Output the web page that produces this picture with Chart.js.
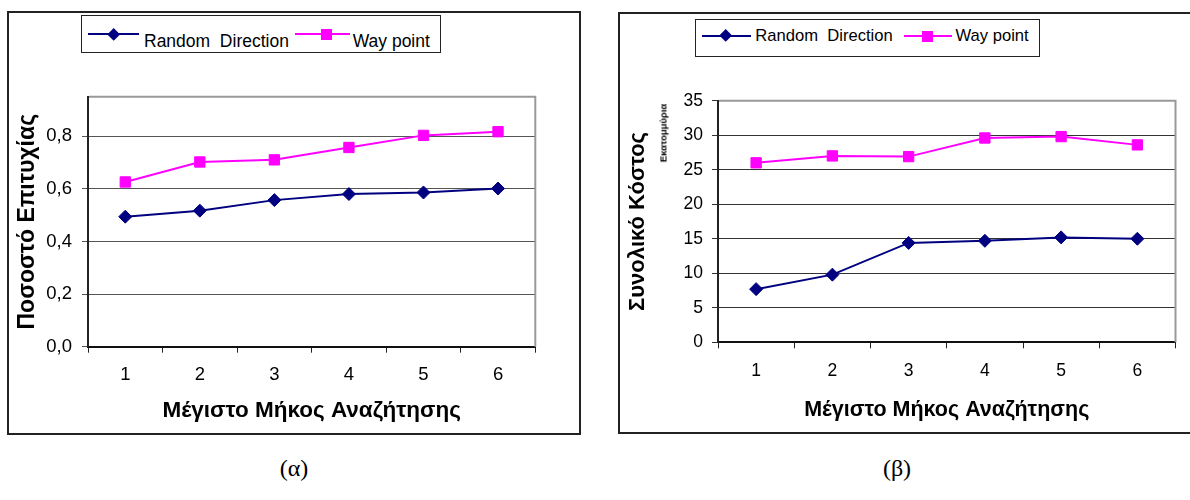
<!DOCTYPE html>
<html>
<head>
<meta charset="utf-8">
<script src="https://cdn.jsdelivr.net/npm/chart.js@4.4.1/dist/chart.umd.min.js"></script>
<style>
  body { margin:0; width:1190px; height:500px; background:#fff; position:relative; overflow:hidden;
         font-family:"Liberation Sans", Arial, sans-serif; }
  .frame { position:absolute; border:2px solid #222; box-sizing:border-box; }
  canvas { position:absolute; }
  .legend { position:absolute; border:1px solid #222; box-sizing:border-box; background:#fff; }
  .lg-line { position:absolute; height:2px; }
  .lg-text { position:absolute; white-space:pre; line-height:20px; color:#000; }
  .mk { position:absolute; }
  .cap { position:absolute; font-family:"Liberation Serif","Times New Roman",serif; font-size:24px; color:#000;
         transform:translate(-50%,-50%); white-space:nowrap; }
  .sub { position:absolute; font-weight:bold; font-size:9.5px; color:#000; white-space:nowrap;
         transform:translate(-50%,-50%) rotate(-90deg); }
</style>
</head>
<body>
<div class="frame" style="left:7px;top:11px;width:574px;height:424px;"></div>
<div class="frame" style="left:618px;top:12px;width:575px;height:422px;"></div>
<canvas id="c1" width="570" height="420" style="left:9px;top:13px;"></canvas>
<canvas id="c2" width="566" height="417" style="left:621px;top:14px;"></canvas>
<div class="sub" style="left:663px;top:133px;">Εκατομμύρια</div>
<div class="cap" style="left:294px;top:468px;">(α)</div>
<div class="cap" style="left:897px;top:468px;">(β)</div>
<script>
// ---- data ----
const categories = ['1', '2', '3', '4', '5', '6'];
const seriesNames = ['Random  Direction', 'Way point'];
const successRandom   = [0.494, 0.517, 0.557, 0.580, 0.586, 0.601];
const successWaypoint = [0.626, 0.702, 0.710, 0.757, 0.803, 0.817];
const costRandom   = [7.7, 9.8, 14.4, 14.7, 15.2, 15.0];
const costWaypoint = [26.0, 27.0, 26.9, 29.6, 29.8, 28.6];
const xTitle = 'Μέγιστο Μήκος Αναζήτησης';
const yTitleA = 'Ποσοστό Επιτυχίας';
const yTitleB = 'Συνολικό Κόστος';

const FONT = '"Liberation Sans", Arial, sans-serif';
const NAVY = '#000080', MAG = '#ff00ff';

const plotBorder = {
  id: 'plotBorder',
  beforeDatasetsDraw(chart) {
    const {ctx, chartArea: a} = chart;
    ctx.save();
    ctx.strokeStyle = '#999';
    ctx.lineWidth = 2;
    ctx.beginPath();
    ctx.moveTo(a.left + 1, a.top);
    ctx.lineTo(a.right, a.top);
    ctx.lineTo(a.right, a.bottom);
    ctx.stroke();
    ctx.restore();
  }
};

function makeChart(id, p) {
  return new Chart(document.getElementById(id), {
    type: 'line',
    data: {
      labels: categories,
      datasets: [
        { label: seriesNames[0], data: p.d1, borderColor: NAVY, backgroundColor: NAVY,
          pointStyle: 'rectRot', pointRadius: 6.5, pointBorderWidth: 1, borderWidth: 2, tension: 0 },
        { label: seriesNames[1], data: p.d2, borderColor: MAG, backgroundColor: MAG,
          pointStyle: 'rect', pointRadius: 7.3, pointBorderWidth: 1, borderWidth: 2, tension: 0 }
      ]
    },
    options: {
      responsive: false, animation: false, devicePixelRatio: 1,
      layout: { padding: { left: 0, top: p.padTop, right: p.padRight, bottom: 0 } },
      plugins: { legend: { display: false }, tooltip: { enabled: false } },
      scales: {
        x: {
          type: 'category', offset: true,
          grid: { offset: true, drawOnChartArea: false, drawTicks: true, tickLength: 6, color: '#222', lineWidth: 1 },
          border: { color: '#111', width: 2 },
          ticks: { color: '#000', font: { family: FONT, size: p.tickSize }, padding: p.xTickPad, maxRotation: 0, autoSkip: false },
          title: { display: true, text: xTitle, color: '#000',
                   font: { family: FONT, size: p.titleSize, weight: 'bold' }, padding: { top: 0, bottom: p.xTitlePad } },
          afterFit(s) { s.height = p.xHeight; }
        },
        y: {
          min: 0, max: p.yMax,
          ticks: { stepSize: p.step, includeBounds: false, color: '#000', padding: p.yTickPad,
                   font: { family: FONT, size: p.tickSize }, callback: p.fmt },
          grid: { color: p.gridColor, lineWidth: 1, tickLength: 6 },
          border: { color: '#222', width: 2 },
          title: { display: true, text: p.yTitle, color: '#000',
                   font: { family: FONT, size: p.yTitleSize, weight: 'bold' }, padding: { top: p.yTitlePad, bottom: 0 } },
          afterFit(s) { s.width = p.yWidth; }
        }
      }
    },
    plugins: [plotBorder]
  });
}

makeChart('c1', {
  d1: successRandom, d2: successWaypoint, yMax: 0.95, step: 0.2,
  fmt: v => v.toFixed(1).replace('.', ','), yTitle: yTitleA,
  padTop: 83.7, padRight: 43.7, xHeight: 86.3, yWidth: 79,
  tickSize: 18.5, titleSize: 22.5, yTitleSize: 23, xTickPad: 11.2, yTickPad: 10, xTitlePad: 8.5, yTitlePad: 5, gridColor: '#555'
});
makeChart('c2', {
  d1: costRandom, d2: costWaypoint, yMax: 35, step: 5,
  fmt: v => String(v), yTitle: yTitleB,
  padTop: 86.7, padRight: 11.5, xHeight: 88.7, yWidth: 97,
  tickSize: 17.5, titleSize: 21.5, yTitleSize: 22, xTickPad: 12.2, yTickPad: 9, xTitlePad: 8.1, yTitlePad: 4, gridColor: '#333'
});

// ---- legends (HTML) ----
function makeLegend(L) {
  const box = document.createElement('div');
  box.className = 'legend';
  Object.assign(box.style, { left: L.box[0] + 'px', top: L.box[1] + 'px',
    width: (L.box[2] - L.box[0]) + 'px', height: (L.box[3] - L.box[1]) + 'px' });
  document.body.appendChild(box);
  const colors = [NAVY, MAG];
  L.items.forEach((it, i) => {
    const line = document.createElement('div');
    line.className = 'lg-line';
    Object.assign(line.style, { left: it.line[0] + 'px', width: (it.line[1] - it.line[0]) + 'px',
      top: (L.lineY - 1) + 'px', background: colors[i] });
    document.body.appendChild(line);
    const mk = document.createElement('div');
    mk.className = 'mk';
    const s = i === 0 ? 9.4 : 11;
    Object.assign(mk.style, { width: s + 'px', height: s + 'px', left: (it.mk - s / 2) + 'px',
      top: (L.lineY - s / 2) + 'px', background: colors[i],
      transform: i === 0 ? 'rotate(45deg)' : 'none' });
    document.body.appendChild(mk);
    const t = document.createElement('div');
    t.className = 'lg-text';
    t.textContent = seriesNames[i];
    Object.assign(t.style, { left: it.text + 'px', top: L.textTop + 'px', fontSize: L.size + 'px' });
    document.body.appendChild(t);
  });
}
makeLegend({ box: [81, 15, 441, 53], lineY: 34.3, textTop: 31.2, size: 17.5,
  items: [ { line: [88, 139], mk: 113.3, text: 144 }, { line: [295, 350], mk: 326.7, text: 352.7 } ] });
makeLegend({ box: [695, 19, 1040, 57.3], lineY: 36, textTop: 26, size: 16.6,
  items: [ { line: [702, 750.7], mk: 726, text: 755.3 }, { line: [904, 951.6], mk: 927, text: 955.5 } ] });
</script>
</body>
</html>
